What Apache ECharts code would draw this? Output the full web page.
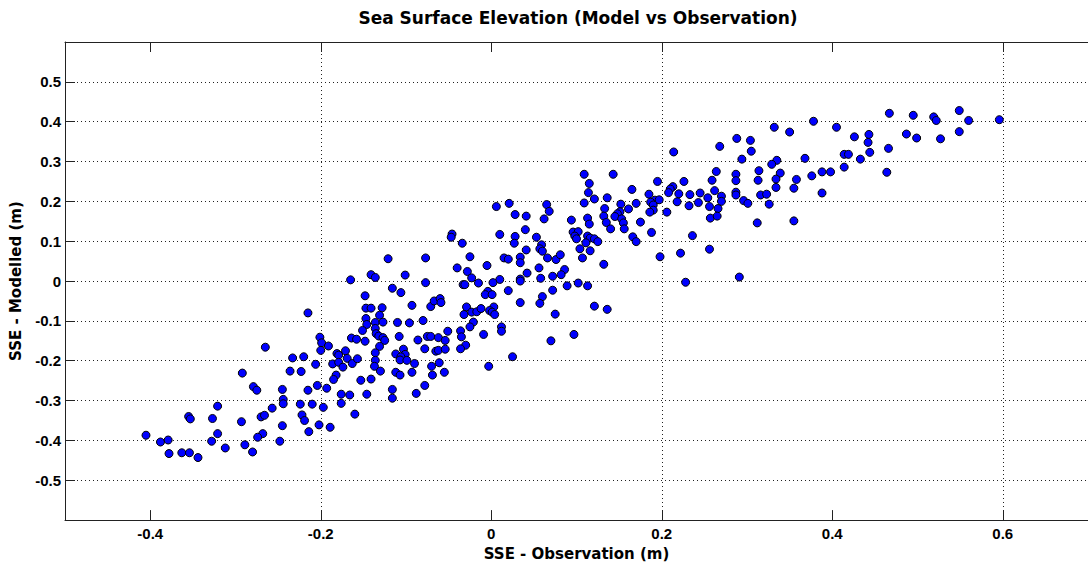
<!DOCTYPE html>
<html>
<head>
<meta charset="utf-8">
<script src="https://cdn.jsdelivr.net/npm/echarts@6/dist/echarts.min.js"></script>
<style>
html,body{margin:0;padding:0;background:#fff;}
#chart{width:1088px;height:566px;}
</style>
</head>
<body>
<div id="chart"></div>
<script>
// Observed sea surface elevation (m)
const sseObservation = [
-0.265,-0.233,-0.292,-0.236,-0.279,-0.275,-0.245,-0.321,-0.244,-0.244,-0.257,-0.355,-0.353,-0.327,-0.293,-0.270,-0.266,-0.245,-0.214,-0.405,-0.321,-0.268,-0.274,-0.388,-0.379,-0.328,-0.248,-0.289,-0.312,-0.378,-0.363,-0.354,-0.344,-0.280,
-0.121,-0.077,-0.165,-0.141,-0.136,-0.101,-0.077,-0.116,-0.106,-0.148,-0.215,-0.147,-0.141,-0.128,-0.093,-0.071,-0.067,-0.060,-0.059,-0.131,-0.147,-0.136,-0.127,-0.110,-0.096,-0.080,-0.146,-0.151,-0.136,-0.135,-0.132,-0.127,-0.125,-0.108,-0.086,-0.075,-0.071,-0.062,-0.201,-0.199,-0.191,-0.164,-0.158,-0.148,-0.131,-0.200,-0.171,-0.181,-0.179,-0.136,-0.078,-0.065,-0.062,-0.103,-0.112,-0.101,-0.106,-0.107,-0.099,-0.220,-0.169,-0.163,-0.157,-0.136,-0.137,-0.186,-0.179,-0.174,-0.206,-0.090,-0.061,-0.070,-0.223,-0.130,-0.112,-0.107,-0.093,-0.069,-0.182,-0.185,-0.153,-0.141,-0.204,-0.193,-0.215,-0.078,-0.116,-0.116,-0.176,-0.166,-0.146,-0.088,-0.176,-0.210,-0.224,-0.197,-0.160,-0.222,-0.219,-0.202,-0.189,-0.055,-0.054,
0.006,0.021,0.065,0.068,0.028,0.041,0.062,0.040,0.010,0.028,0.027,0.053,-0.046,-0.047,-0.034,0.059,0.057,0.060,0.041,-0.025,0.015,0.020,0.034,0.034,0.066,0.076,0.081,-0.005,-0.040,-0.028,0.056,0.086,-0.023,0.042,0.010,0.034,0.034,0.058,0.072,0.082,-0.015,0.002,-0.033,-0.031,0.020,0.072,-0.004,-0.007,0.001,0.060,0.034,0.057,-0.029,0.003,-0.032,-0.023,-0.017,-0.012,-0.002,0.001,0.004,0.075,-0.021,-0.025,0.012,0.012,-0.051,-0.054,-0.036,-0.035,-0.009,-0.030,-0.036,0.070,0.025,-0.003,
0.214,0.109,0.143,0.115,0.195,0.226,0.165,0.114,0.213,0.210,0.208,0.220,0.233,0.185,0.121,0.136,0.109,0.192,0.187,0.197,0.218,0.170,0.152,0.190,0.232,0.133,0.161,0.190,0.186,0.206,0.151,0.148,0.145,0.132,0.153,0.094,0.113,0.115,0.135,0.155,0.175,0.140,0.156,0.188,0.096,0.102,0.098,0.100,0.113,0.116,0.121,0.125,0.111,0.166,0.170,0.236,0.104,0.116,0.107,0.198,0.222,0.132,0.089,0.102,0.113,0.228,0.121,0.136,0.097,
0.378,0.332,0.350,0.405,0.288,0.304,0.268,0.305,0.294,0.335,0.329,0.368,0.264,0.314,0.339,0.376,0.388,0.398,0.287,0.287,0.259,0.313,0.334,0.358,0.334,0.355,0.262,0.287,0.287,0.245,0.254,0.270,0.270,0.316,0.323,0.388,0.296,0.301,0.326,0.243,0.256,0.266,0.257,0.265,0.312,0.355,0.256,0.291,
0.467,0.495,0.519,0.522,0.549,0.560,0.596,0.426,0.443,0.442,0.487,0.499,0.527,0.549,0.466,0.444,0.414,0.419,0.433,0.414,0.464
];
// Modelled sea surface elevation (m)
const sseModelled = [
-0.166,-0.193,-0.231,-0.226,-0.265,-0.274,-0.272,-0.314,-0.297,-0.308,-0.319,-0.340,-0.346,-0.345,-0.353,-0.341,-0.337,-0.363,-0.378,-0.387,-0.383,-0.383,-0.392,-0.404,-0.399,-0.402,-0.402,-0.411,-0.419,-0.433,-0.431,-0.431,-0.443,-0.429,
0.056,0.058,0.003,0.016,0.009,0.015,-0.004,-0.018,-0.029,-0.037,-0.080,-0.068,-0.068,-0.067,-0.061,-0.064,-0.050,-0.044,-0.054,-0.086,-0.094,-0.104,-0.103,-0.104,-0.105,-0.099,-0.109,-0.124,-0.119,-0.132,-0.138,-0.142,-0.149,-0.139,-0.148,-0.139,-0.139,-0.142,-0.141,-0.155,-0.163,-0.143,-0.146,-0.151,-0.164,-0.174,-0.175,-0.182,-0.186,-0.180,-0.170,-0.176,-0.174,-0.171,-0.183,-0.184,-0.190,-0.198,-0.199,-0.190,-0.194,-0.207,-0.195,-0.199,-0.214,-0.208,-0.204,-0.216,-0.209,-0.207,-0.205,-0.214,-0.227,-0.226,-0.229,-0.236,-0.229,-0.236,-0.236,-0.247,-0.249,-0.246,-0.262,-0.269,-0.274,-0.262,-0.272,-0.294,-0.284,-0.286,-0.284,-0.282,-0.307,-0.309,-0.309,-0.317,-0.334,-0.336,-0.350,-0.361,-0.367,-0.229,-0.171,
0.187,0.195,0.192,0.175,0.167,0.163,0.156,0.129,0.117,0.112,0.095,0.110,0.118,0.110,0.095,0.091,0.081,0.075,0.078,0.061,0.058,0.055,0.060,0.046,0.058,0.054,0.066,0.039,0.033,0.024,0.033,0.029,0.008,0.020,0.004,0.005,0.000,0.007,0.012,0.016,-0.005,-0.004,-0.009,-0.009,-0.024,-0.023,-0.026,-0.034,-0.034,-0.039,-0.054,-0.056,-0.065,-0.065,-0.084,-0.078,-0.077,-0.069,-0.074,-0.078,-0.084,-0.083,-0.103,-0.115,-0.115,-0.126,-0.126,-0.149,-0.125,-0.140,-0.134,-0.161,-0.170,-0.150,-0.190,-0.214,
0.324,0.268,0.268,0.245,0.250,0.250,0.230,0.222,0.237,0.231,0.222,0.219,0.217,0.218,0.206,0.209,0.196,0.203,0.198,0.204,0.199,0.195,0.193,0.191,0.189,0.182,0.181,0.178,0.173,0.173,0.174,0.169,0.162,0.163,0.156,0.153,0.158,0.143,0.147,0.146,0.148,0.131,0.131,0.122,0.123,0.124,0.113,0.106,0.113,0.108,0.106,0.099,0.096,0.111,0.099,0.114,0.081,0.076,0.058,0.061,0.070,0.042,-0.012,-0.005,-0.012,-0.003,-0.063,-0.071,-0.134,
0.401,0.386,0.374,0.386,0.358,0.353,0.338,0.326,0.306,0.303,0.293,0.308,0.275,0.277,0.271,0.264,0.274,0.274,0.268,0.252,0.253,0.253,0.256,0.255,0.235,0.233,0.227,0.223,0.216,0.221,0.209,0.213,0.200,0.216,0.218,0.221,0.202,0.195,0.193,0.197,0.187,0.182,0.158,0.163,0.146,0.151,0.080,0.010,
0.421,0.416,0.412,0.403,0.428,0.403,0.405,0.362,0.368,0.348,0.369,0.359,0.357,0.375,0.333,0.323,0.318,0.318,0.306,0.286,0.273
];
// Tick values
const xTickValues = [-0.4, -0.2, 0, 0.2, 0.4, 0.6];
const yTickValues = [-0.5, -0.4, -0.3, -0.2, -0.1, 0, 0.1, 0.2, 0.3, 0.4, 0.5];

const titleText = 'Sea Surface Elevation (Model vs Observation)';
const xName = 'SSE - Observation (m)';
const yName = 'SSE - Modelled (m)';

const FONT = '"DejaVu Sans", sans-serif';
const TICKFONT = '"Liberation Sans", Arial, sans-serif';
const n = Math.min(sseObservation.length, sseModelled.length);
const points = [];
for (let i = 0; i < n; i++) points.push([sseObservation[i], sseModelled[i]]);

function fmt(v) { const r = Math.round(v * 10) / 10; return String(r === 0 ? 0 : r); }

const chart = echarts.init(document.getElementById('chart'), null, { renderer: 'svg' });
const gridLine = { type: [1, 3], color: '#222', width: 1 };
chart.setOption({
  animation: false,
  backgroundColor: '#fff',
  graphic: [{
    type: 'text', x: 578, y: 18,
    style: { text: titleText, fill: '#000', font: 'bold 17px ' + FONT, textAlign: 'center', textVerticalAlign: 'middle', align: 'center', verticalAlign: 'middle' }
  }],
  grid: { left: 64, right: -7, top: 42, bottom: 43, containLabel: false },
  xAxis: [{
    type: 'value', min: -0.5, max: 0.7, interval: 0.1, position: 'bottom',
    name: xName, nameLocation: 'middle', nameGap: 25,
    nameTextStyle: { fontFamily: FONT, fontWeight: 'bold', fontSize: 15, color: '#000' },
    axisLine: { show: true, onZero: false, lineStyle: { color: '#222', width: 1 } },
    axisTick: { show: true, inside: true, length: 10, customValues: xTickValues, lineStyle: { color: '#222' } },
    axisLabel: { customValues: xTickValues, margin: 6, fontFamily: TICKFONT, fontWeight: 'bold', fontSize: 15, color: '#000',
      formatter: v => (Math.abs(Math.round(v * 10)) % 2 === 0 ? fmt(v) : '') },
    splitLine: { show: true, lineStyle: Object.assign({}, gridLine, { color: ['rgba(0,0,0,0)', '#222'] }) }
  }, {
    type: 'value', min: -0.5, max: 0.7, interval: 0.1, position: 'top',
    axisLine: { show: true, onZero: false, lineStyle: { color: '#222', width: 1 } },
    axisTick: { show: true, inside: true, length: 10, customValues: xTickValues, lineStyle: { color: '#222' } },
    axisLabel: { show: false },
    splitLine: { show: false }
  }],
  yAxis: {
    type: 'value', min: -0.6, max: 0.6, interval: 0.1,
    name: yName, nameLocation: 'middle', nameGap: 42, nameRotate: 90,
    nameTextStyle: { fontFamily: FONT, fontWeight: 'bold', fontSize: 15, color: '#000' },
    axisLine: { show: true, onZero: false, lineStyle: { color: '#222', width: 1 } },
    axisTick: { show: true, inside: true, length: 10, lineStyle: { color: '#222' } },
    axisLabel: { margin: 4, fontFamily: TICKFONT, fontWeight: 'bold', fontSize: 15, color: '#000',
      formatter: v => (Math.abs(v) > 0.55 ? '' : fmt(v)) },
    splitLine: { show: true, lineStyle: gridLine }
  },
  series: [{
    type: 'scatter', xAxisIndex: 0, yAxisIndex: 0,
    data: points, symbol: 'circle', symbolSize: 8,
    itemStyle: { color: '#0000ff', borderColor: '#000', borderWidth: 1, opacity: 1 },
    emphasis: { disabled: true }
  }]
});
</script>
</body>
</html>
